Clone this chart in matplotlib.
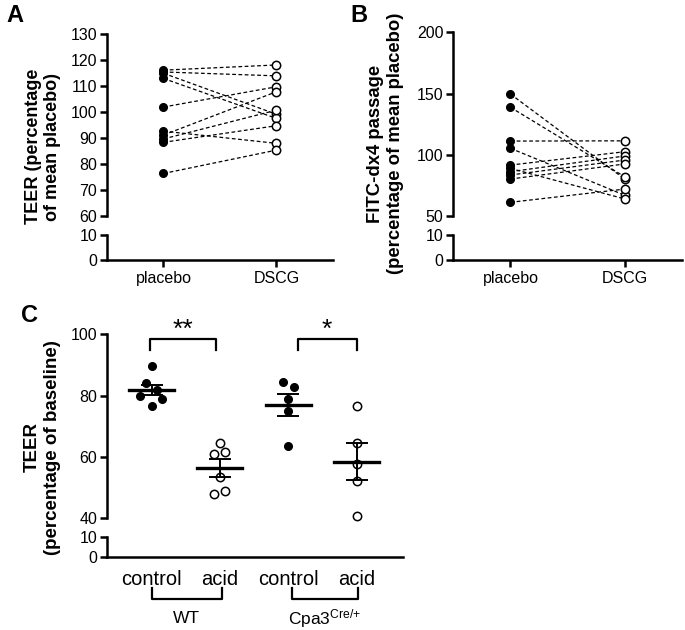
import numpy as np
import matplotlib
matplotlib.use('Agg')
import matplotlib.pyplot as plt

plt.rcParams['font.family'] = ['Liberation Sans', 'DejaVu Sans']

# panel A: TEER, paired placebo / DSCG
a_placebo = [116.2, 115.5, 115.0, 113.0, 102.0, 92.7, 91.2, 89.7, 88.4, 76.4]
a_dscg = [118.2, 114.0, 99.2, 97.6, 109.8, 88.0, 107.9, 100.8, 94.8, 85.4]

# panel B: FITC-dx4 passage, paired placebo / DSCG
b_placebo = [149.6, 138.8, 111.2, 105.3, 91.6, 88.9, 86.2, 83.5, 80.2, 61.2]
b_dscg = [80.2, 82.1, 111.4, 67.0, 102.5, 64.0, 99.0, 95.7, 92.5, 72.0]

pair_labels = ['placebo', 'DSCG']

# panel C: TEER per group
c_groups = ['control', 'acid', 'control', 'acid']
c_wt_ctrl = [89.7, 84.0, 81.8, 79.9, 78.8, 76.6]
c_wt_acid = [64.7, 61.6, 61.0, 53.6, 48.9, 47.9]
c_cpa_ctrl = [84.6, 82.7, 78.8, 75.0, 63.7]
c_cpa_acid = [76.6, 64.7, 57.7, 52.0, 40.8]
c_means = [81.8, 56.3, 77.0, 58.4]
c_sems = [1.7, 2.9, 3.65, 6.0]
# small horizontal scatter of points, as in the figure
c_jit = [[0, -0.09, 0.08, -0.17, 0.155, 0],
         [0, 0.08, -0.08, 0, 0.08, -0.08],
         [-0.08, 0.08, 0, 0, 0],
         [0, 0, 0, 0, 0]]

LW = 1.8
TICK = 11.5


def broken(fig, top_rect, bot_rect, ylim, yticks, xlim):
    axt = fig.add_axes(top_rect)
    axb = fig.add_axes(bot_rect)
    for ax in (axt, axb):
        ax.set_xlim(*xlim)
        ax.patch.set_alpha(0)
        for s in ['top', 'right']:
            ax.spines[s].set_visible(False)
        ax.spines['left'].set_linewidth(LW)
        ax.spines['bottom'].set_linewidth(LW)
        ax.tick_params(axis='y', width=LW, length=5, pad=2, labelsize=TICK)
    axt.spines['bottom'].set_visible(False)
    axt.set_xticks([])
    axt.set_ylim(*ylim)
    axt.set_yticks(yticks)
    axb.set_ylim(0, 10)
    axb.set_yticks([0, 10])
    return axt, axb


fig = plt.figure(figsize=(6.85, 6.3), dpi=100)

# ---- A
axt, axb = broken(fig, [0.1562, 0.6571, 0.3299, 0.2884], [0.1562, 0.5873, 0.3299, 0.0397],
                  (60, 130), range(60, 131, 10), (0.5, 2.5))
for p, d in zip(a_placebo, a_dscg):
    axt.plot([1, 2], [p, d], 'k--', lw=0.9, dashes=(3, 2))
axt.plot([1] * len(a_placebo), a_placebo, 'o', color='k', ms=5.5, clip_on=False)
axt.plot([2] * len(a_dscg), a_dscg, 'o', mfc='white', mec='k', mew=1.1, ms=6, clip_on=False)
axb.set_xticks([1, 2])
axb.set_xticklabels(pair_labels, fontsize=TICK)
axb.tick_params(axis='x', width=LW, length=5, pad=3)
fig.text(0.063, 0.767, 'TEER (percentage\nof mean placebo)', rotation=90, fontsize=13,
         fontweight='bold', ha='center', va='center', multialignment='center')
fig.text(0.010, 0.994, 'A', fontsize=17, fontweight='bold', va='top')

# ---- B
axt, axb = broken(fig, [0.6618, 0.6571, 0.3334, 0.2916], [0.6618, 0.5873, 0.3334, 0.0397],
                  (50, 200), [50, 100, 150, 200], (0.5, 2.5))
for p, d in zip(b_placebo, b_dscg):
    axt.plot([1, 2], [p, d], 'k--', lw=0.9, dashes=(3, 2))
axt.plot([1] * len(b_placebo), b_placebo, 'o', color='k', ms=5.5, clip_on=False)
axt.plot([2] * len(b_dscg), b_dscg, 'o', mfc='white', mec='k', mew=1.1, ms=6, clip_on=False)
axb.set_xticks([1, 2])
axb.set_xticklabels(pair_labels, fontsize=TICK)
axb.tick_params(axis='x', width=LW, length=5, pad=3)
fig.text(0.563, 0.772, 'FITC-dx4 passage\n(percentage of mean placebo)', rotation=90, fontsize=13.3,
         fontweight='bold', ha='center', va='center', multialignment='center')
fig.text(0.512, 0.994, 'B', fontsize=17, fontweight='bold', va='top')

# ---- C
axt, axb = broken(fig, [0.1562, 0.1773, 0.4321, 0.2921], [0.1562, 0.1154, 0.4321, 0.0317],
                  (40, 100), [40, 60, 80, 100], (0.346, 4.68))
c_vals = [c_wt_ctrl, c_wt_acid, c_cpa_ctrl, c_cpa_acid]
for i, (vals, jit) in enumerate(zip(c_vals, c_jit)):
    xs = np.array(jit) + i + 1
    if i % 2 == 0:
        axt.plot(xs, vals, 'o', color='k', ms=5.5, clip_on=False, zorder=3)
    else:
        axt.plot(xs, vals, 'o', mfc='white', mec='k', mew=1.1, ms=6, clip_on=False, zorder=3)
    m, s = c_means[i], c_sems[i]
    axt.plot([i + 1 - 0.33, i + 1 + 0.33], [m, m], color='k', lw=2.4, zorder=4)
    axt.errorbar(i + 1, m, yerr=s, color='k', lw=1.4, capsize=8, capthick=1.4, zorder=4)

# significance brackets
for x0, x1, lab in [(0.97, 1.94, '**'), (3.14, 4.0, '*')]:
    axt.plot([x0, x0, x1, x1], [94.9, 98.4, 98.4, 94.9], color='k', lw=1.6, clip_on=False)
    axt.text((x0 + x1) / 2, 101.5, lab, fontsize=19, ha='center', va='center')

axb.set_xticks([1, 2, 3, 4])
axb.set_xticklabels(c_groups, fontsize=14.5)
axb.tick_params(axis='x', length=0, pad=9)
tr = axb.get_xaxis_transform()
for x0, x1, lab in [(1.0, 2.03, 'WT'), (3.05, 4.02, '$\\mathregular{Cpa3^{Cre/{+}}}$')]:
    axb.plot([x0, x0, x1, x1], [-1.55, -2.09, -2.09, -1.55], color='k', lw=1.6,
             transform=tr, clip_on=False)
    axb.text((x0 + x1) / 2, -3.05, lab, fontsize=12.5, ha='center', va='center', transform=tr)
fig.text(0.062, 0.29, 'TEER\n(percentage of baseline)', rotation=90, fontsize=13.5,
         fontweight='bold', ha='center', va='center', multialignment='center')
fig.text(0.031, 0.518, 'C', fontsize=17, fontweight='bold', va='top')

fig.savefig('out.png', dpi=100)
